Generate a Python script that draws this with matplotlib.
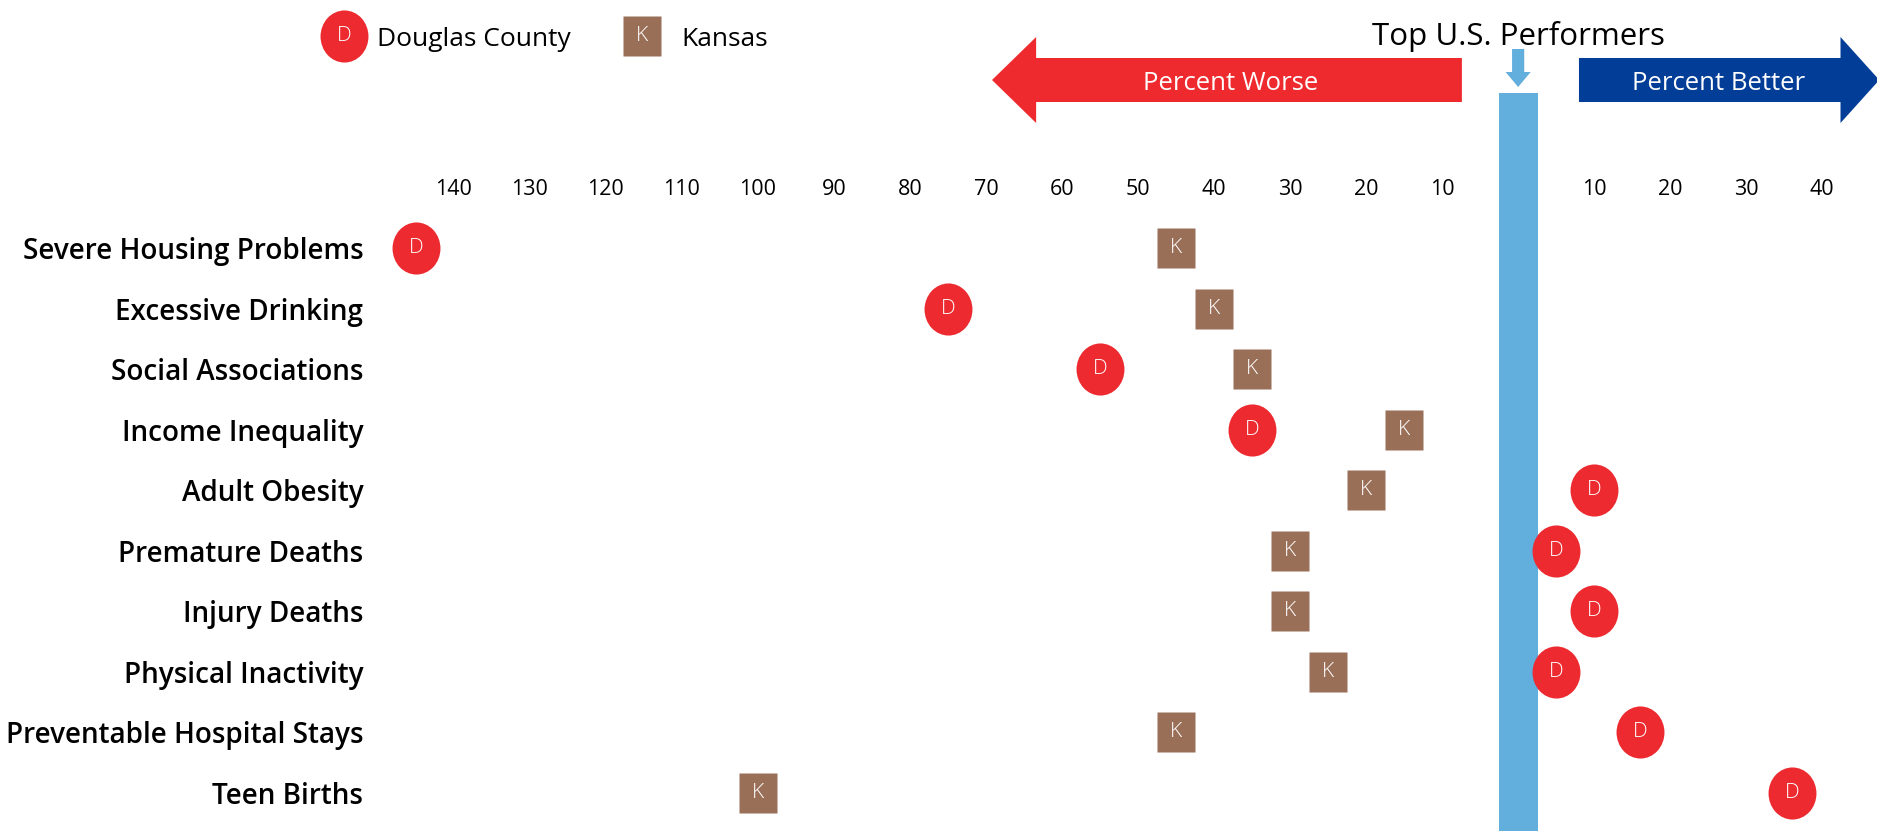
import numpy as np
import matplotlib.pyplot as plt
from matplotlib.path import Path
from matplotlib.patches import FancyArrow
from matplotlib.transforms import blended_transform_factory

plt.rcParams['font.family'] = ['Open Sans', 'DejaVu Sans']

# negative = percent worse than top U.S. performers, positive = percent better
measures = ["Severe Housing Problems", "Excessive Drinking", "Social Associations",
            "Income Inequality", "Adult Obesity", "Premature Deaths", "Injury Deaths",
            "Physical Inactivity", "Preventable Hospital Stays", "Teen Births"]
douglas = [-145, -75, -55, -35, 10, 5, 10, 5, 16, 36]
kansas = [-45, -40, -35, -15, -20, -30, -30, -25, -45, -100]

tick_values = [-140, -130, -120, -110, -100, -90, -80, -70, -60, -50, -40, -30, -20, -10,
               10, 20, 30, 40]
tick_labels = [str(abs(v)) for v in tick_values]

RED = '#ec2a2f'
BROWN = '#9a6f58'
LIGHT_BLUE = '#62aedc'
NAVY = '#023e97'

W, H = 1877, 831
fig = plt.figure(figsize=(W / 100, H / 100), dpi=100)

# slightly tall ellipse and rectangle markers
circ = Path.unit_circle()
ellipse = Path(circ.vertices * [0.92, 1.0], circ.codes)
rect = Path([(-0.46, -0.5), (0.46, -0.5), (0.46, 0.5), (-0.46, 0.5), (-0.46, -0.5)],
            [Path.MOVETO, Path.LINETO, Path.LINETO, Path.LINETO, Path.CLOSEPOLY])

ax_left = 380 / W
ax = fig.add_axes([ax_left, 0, 1 - ax_left, (H - 215) / H])
ax.set_xlim(-149.7, 47.2)
ax.set_ylim(9.628, -0.545)

y = np.arange(len(measures))

# top performers bar
ax.axvspan(-2.57, 2.57, ymin=0, ymax=(H - 93) / (H - 215), color=LIGHT_BLUE,
           lw=0, clip_on=False, zorder=1)

ax.plot(kansas, y, ls='none', marker=rect, ms=29.5, color=BROWN, mec='none',
        clip_on=False, zorder=3)
ax.plot(douglas, y, ls='none', marker=ellipse, ms=37.5, color=RED, mec='none',
        clip_on=False, zorder=3)
for xv, yv in zip(kansas, y):
    ax.text(xv, yv, 'K', color='white', fontsize=15, fontweight='light',
            ha='center', va='center', zorder=4)
for xv, yv in zip(douglas, y):
    ax.text(xv, yv, 'D', color='white', fontsize=15, fontweight='light',
            ha='center', va='center', zorder=4)

ax.set_yticks(y)
ax.set_yticklabels(measures, fontsize=20.1, fontweight='semibold')
ax.xaxis.tick_top()
ax.set_xticks(tick_values)
ax.set_xticklabels(tick_labels, fontsize=15.5)
ax.tick_params(axis='x', length=0, pad=11)
ax.tick_params(axis='y', length=0, pad=12)
for s in ax.spines.values():
    s.set_visible(False)

# direction arrows
tr = blended_transform_factory(ax.transData, fig.transFigure)
yc = 1 - 80 / H
worse = FancyArrow(-7.4, yc, -61.8, 0, width=44 / H, head_width=86 / H, head_length=5.8,
                   length_includes_head=True, color='#ee2a2e', lw=0, transform=tr,
                   clip_on=False)
better = FancyArrow(8.0, yc, 39.5, 0, width=44 / H, head_width=86 / H, head_length=5.1,
                    length_includes_head=True, color=NAVY, lw=0, transform=tr,
                    clip_on=False)
down = FancyArrow(0, 1 - 49 / H, 0, -38 / H, width=1.6, head_width=3.3, head_length=15 / H,
                  length_includes_head=True, color=LIGHT_BLUE, lw=0, transform=tr,
                  clip_on=False)
for a in (worse, better, down):
    ax.add_patch(a)
ax.text(-37.8, 1 - 90 / H, 'Percent Worse', transform=tr, color='white', fontsize=18.5,
        ha='center', va='baseline')
ax.text(26.3, 1 - 90 / H, 'Percent Better', transform=tr, color='white', fontsize=18.5,
        ha='center', va='baseline')
ax.text(0, 1 - 45 / H, 'Top U.S. Performers', transform=tr, fontsize=22.5,
        ha='center', va='baseline')

# legend
ly = 1 - 36 / H
fig.add_artist(plt.Line2D([344 / W], [ly], ls='none', marker=ellipse, ms=37.5, color=RED,
                          mec='none', transform=fig.transFigure))
fig.text(344 / W, ly, 'D', color='white', fontsize=15, fontweight='light',
         ha='center', va='center')
fig.text(377 / W, 1 - 46 / H, 'Douglas County', fontsize=19, ha='left', va='baseline')
fig.add_artist(plt.Line2D([642 / W], [ly], ls='none', marker=rect, ms=29.5, color=BROWN,
                          mec='none', transform=fig.transFigure))
fig.text(642 / W, ly, 'K', color='white', fontsize=15, fontweight='light',
         ha='center', va='center')
fig.text(681 / W, 1 - 46 / H, 'Kansas', fontsize=19, ha='left', va='baseline')

fig.savefig('out.png', dpi=100)
